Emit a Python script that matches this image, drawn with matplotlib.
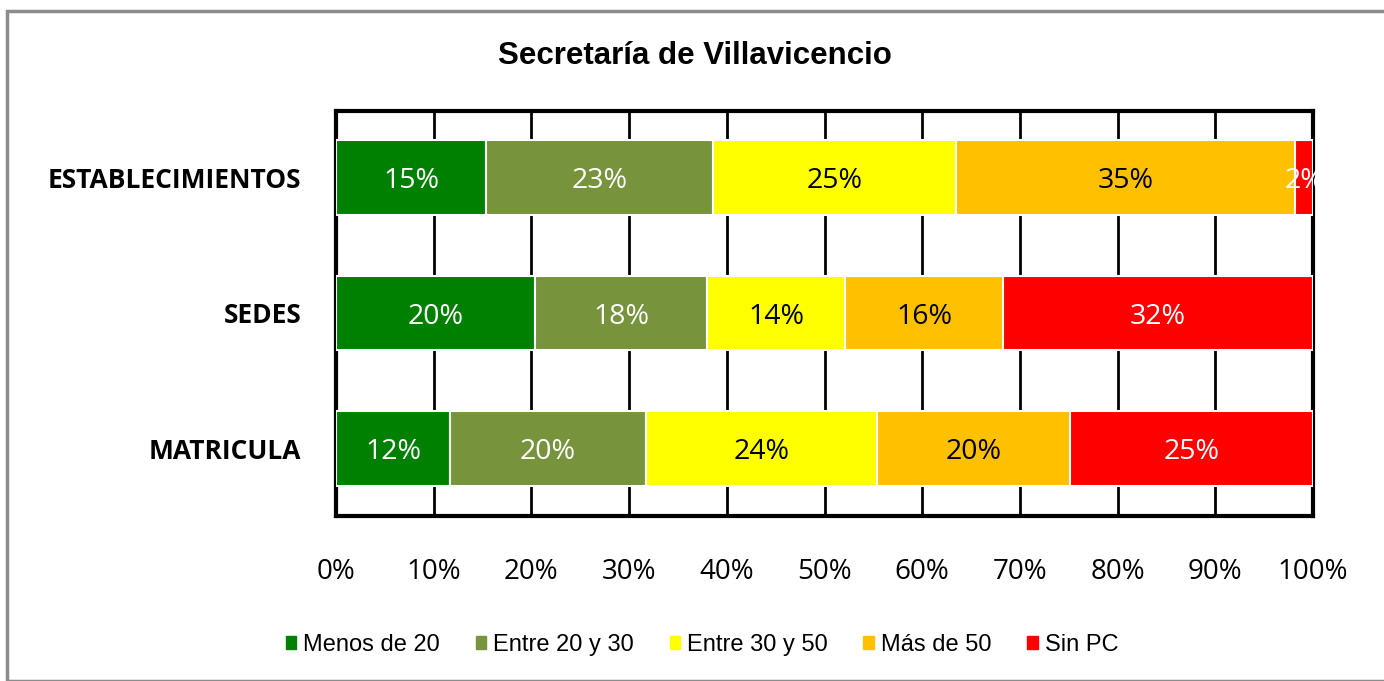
import matplotlib.pyplot as plt
import matplotlib.patches as mpatches
import numpy as np

# data (percent of each row)
categories = ['ESTABLECIMIENTOS', 'SEDES', 'MATRICULA']
series_names = ['Menos de 20', 'Entre 20 y 30', 'Entre 30 y 50', 'Más de 50', 'Sin PC']
menos_20 = [15.4, 20.4, 11.7]
entre_20_30 = [23.2, 17.6, 20.0]
entre_30_50 = [24.9, 14.1, 23.7]
mas_50 = [34.7, 16.2, 19.7]
sin_pc = [1.8, 31.7, 24.9]
colors = ['#008000', '#77933C', '#FFFF00', '#FFC000', '#FF0000']
label_colors = ['white', 'white', 'black', 'black', 'white']
x_ticks = [0, 10, 20, 30, 40, 50, 60, 70, 80, 90, 100]

series = [menos_20, entre_20_30, entre_30_50, mas_50, sin_pc]

fig = plt.figure(figsize=(13.84, 6.81), dpi=100)
W, H = 1384, 681

# outer gray frame
fig.patches.append(mpatches.Rectangle((7 / W, 0), 1.2, (H - 11) / H, transform=fig.transFigure,
                                      fill=False, edgecolor='#8c8c8c', linewidth=2.5))

ax = fig.add_axes([336 / W, 1 - 516 / H, (1313 - 336) / W, (516 - 111) / H])
y = np.arange(len(categories))
left = np.zeros(len(categories))
for name, vals, col, tcol in zip(series_names, series, colors, label_colors):
    vals = np.array(vals)
    ax.barh(y, vals, left=left, height=0.55, color=col, edgecolor='white',
            linewidth=1.5, label=name, zorder=3)
    for yi, l, v in zip(y, left, vals):
        ax.text(l + v / 2, yi + 0.03, f'{v:.0f}%', ha='center', va='center', color=tcol,
                fontsize=20.5, family='Open Sans', zorder=4)
    left += vals

ax.set_xlim(0, 100)
ax.set_ylim(2.5, -0.49)
ax.set_xticks(x_ticks)
ax.set_xticklabels([f'{t}%' for t in x_ticks], fontsize=20, family='Open Sans')
ax.set_yticks(y)
ax.set_yticklabels(categories, fontsize=19, fontweight='bold', family='Open Sans')
ax.tick_params(axis='x', length=0, pad=30)
ax.tick_params(axis='y', length=0, pad=25)
ax.grid(axis='x', color='black', linewidth=2, zorder=0)
for s in ax.spines.values():
    s.set_linewidth(3)
    s.set_color('black')

fig.text(695 / W, 1 - 56 / H, 'Secretaría de Villavicencio', ha='center', va='center',
         fontsize=22.5, fontweight='bold', family='Liberation Sans')

handles = [mpatches.Patch(color=c, label=n) for n, c in zip(series_names, colors)]
fig.legend(handles=handles, loc='center', bbox_to_anchor=(702 / W, 1 - 645 / H), ncol=5,
           frameon=False, prop={'family': 'Liberation Sans', 'size': 17},
           handlelength=0.45, handleheight=0.45, handletextpad=0.3, columnspacing=1.5)

fig.savefig('out.png', dpi=100)
